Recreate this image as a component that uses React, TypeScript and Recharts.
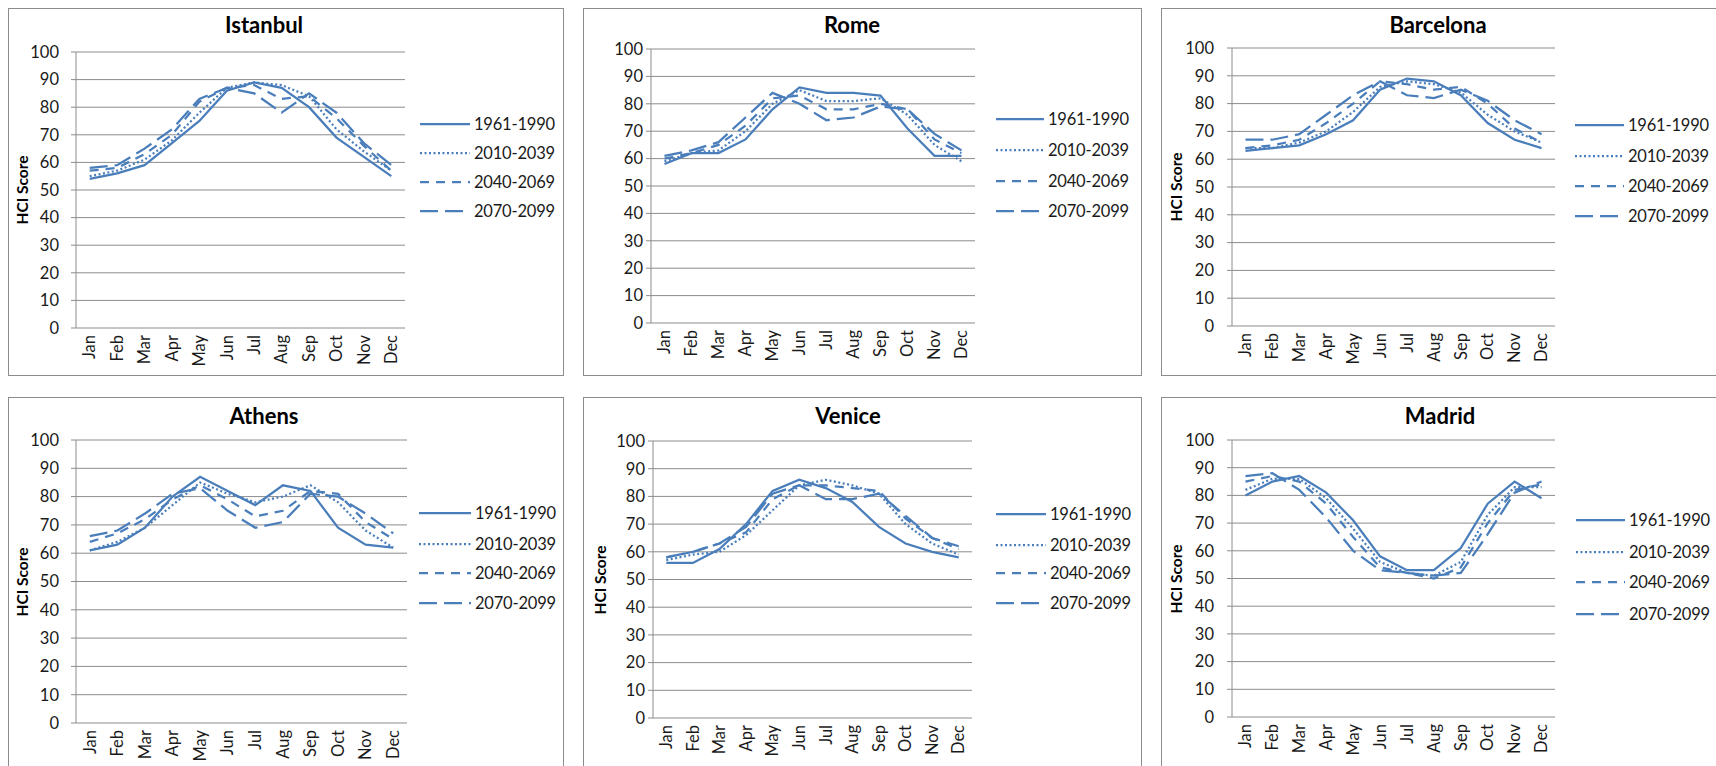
import React from "react";
import { LineChart, Line, XAxis, YAxis, CartesianGrid } from "recharts";

const MONTHS = ["Jan", "Feb", "Mar", "Apr", "May", "Jun", "Jul", "Aug", "Sep", "Oct", "Nov", "Dec"];
const PERIODS = ["1961-1990", "2010-2039", "2040-2069", "2070-2099"];
const Y_TICKS = [0, 10, 20, 30, 40, 50, 60, 70, 80, 90, 100];

// HCI scores per month, one array per period
const IST_1961 = [54, 56, 59, 67, 75, 86, 89, 87, 80, 69, 62, 55];
const IST_2010 = [55, 57, 61, 68, 78, 87, 89, 88, 84, 72, 64, 57];
const IST_2040 = [57, 58, 63, 70, 82, 87, 88, 83, 84, 76, 66, 57];
const IST_2070 = [58, 59, 65, 72, 83, 87, 85, 78, 85, 78, 67, 59];

const ROM_1961 = [58, 62, 62, 67, 78, 86, 84, 84, 83, 71, 61, 61];
const ROM_2010 = [59, 62, 63, 70, 80, 85, 81, 81, 82, 76, 65, 59];
const ROM_2040 = [60, 62, 65, 72, 82, 83, 78, 78, 80, 78, 67, 62];
const ROM_2070 = [61, 63, 66, 75, 84, 80, 74, 75, 79, 78, 69, 63];

const BCN_1961 = [63, 64, 65, 69, 74, 85, 89, 88, 83, 73, 67, 64];
const BCN_2010 = [64, 64, 66, 70, 77, 86, 88, 87, 84, 76, 70, 66];
const BCN_2040 = [64, 65, 67, 73, 80, 88, 87, 85, 86, 80, 71, 66];
const BCN_2070 = [67, 67, 69, 76, 83, 88, 83, 82, 85, 81, 74, 69];

const ATH_1961 = [61, 63, 69, 80, 87, 82, 77, 84, 82, 69, 63, 62];
const ATH_2010 = [61, 64, 69, 77, 85, 81, 78, 80, 84, 78, 68, 62];
const ATH_2040 = [64, 67, 72, 79, 84, 79, 73, 75, 82, 81, 71, 65];
const ATH_2070 = [66, 68, 74, 81, 83, 75, 69, 71, 81, 80, 74, 67];

const VEN_1961 = [56, 56, 61, 70, 82, 86, 83, 78, 69, 63, 60, 58];
const VEN_2010 = [57, 59, 60, 66, 75, 84, 86, 84, 81, 70, 63, 59];
const VEN_2040 = [58, 60, 63, 67, 79, 84, 84, 83, 82, 72, 65, 61];
const VEN_2070 = [58, 60, 63, 69, 81, 84, 79, 79, 81, 73, 65, 62];

const MAD_1961 = [80, 85, 87, 81, 71, 58, 53, 53, 61, 77, 85, 79];
const MAD_2010 = [82, 86, 86, 79, 68, 56, 52, 51, 56, 73, 83, 83];
const MAD_2040 = [85, 87, 85, 77, 65, 54, 52, 50, 54, 70, 82, 84];
const MAD_2070 = [87, 88, 82, 72, 60, 53, 52, 51, 52, 66, 81, 85];

const BLUE = "#4A7EBB";
const GRID = "#8c8c8c";
const TEXT = "#1a1a1a";
const FONT = "Lato, 'Open Sans', sans-serif";
const DASHES = [undefined, "2 2.5", "9 7", "18 7"];

interface Layout {
  box: [number, number, number, number];
  plot: [number, number, number, number];
  titleX: number;
  titleY: number;
  hciX?: number;
  labelGap: number;
  legendLineX: number;
  legendTextX: number;
  legendY: number[];
}

const PANELS: { city: string; series: number[][]; layout: Layout }[] = [
  {
    city: "Istanbul",
    series: [IST_1961, IST_2010, IST_2040, IST_2070],
    layout: { box: [8, 8, 556, 368], plot: [76, 405, 52, 328], titleX: 264, titleY: 25, hciX: 22, labelGap: 17, legendLineX: 420, legendTextX: 474, legendY: [124, 153, 182, 211] },
  },
  {
    city: "Rome",
    series: [ROM_1961, ROM_2010, ROM_2040, ROM_2070],
    layout: { box: [583, 8, 559, 368], plot: [651, 975, 49, 323], titleX: 852, titleY: 25, labelGap: 8, legendLineX: 996, legendTextX: 1048, legendY: [119, 150, 181, 211] },
  },
  {
    city: "Barcelona",
    series: [BCN_1961, BCN_2010, BCN_2040, BCN_2070],
    layout: { box: [1161, 8, 560, 368], plot: [1232, 1555, 48, 326], titleX: 1438, titleY: 25, hciX: 1176, labelGap: 18, legendLineX: 1575, legendTextX: 1628, legendY: [125, 156, 186, 216] },
  },
  {
    city: "Athens",
    series: [ATH_1961, ATH_2010, ATH_2040, ATH_2070],
    layout: { box: [8, 397, 556, 380], plot: [76, 407, 440, 723], titleX: 264, titleY: 416, hciX: 22, labelGap: 17, legendLineX: 419, legendTextX: 475, legendY: [513, 544, 573, 603] },
  },
  {
    city: "Venice",
    series: [VEN_1961, VEN_2010, VEN_2040, VEN_2070],
    layout: { box: [583, 397, 559, 380], plot: [653, 972, 441, 718], titleX: 848, titleY: 416, hciX: 600, labelGap: 8, legendLineX: 996, legendTextX: 1050, legendY: [514, 545, 573, 603] },
  },
  {
    city: "Madrid",
    series: [MAD_1961, MAD_2010, MAD_2040, MAD_2070],
    layout: { box: [1161, 397, 560, 380], plot: [1232, 1555, 440, 717], titleX: 1440, titleY: 416, hciX: 1176, labelGap: 18, legendLineX: 1576, legendTextX: 1629, legendY: [520, 552, 582, 614] },
  },
];

const BOUNDS = Array.from({ length: 13 }, (_, i) => i);
const CENTERS = MONTHS.map((_, i) => i + 0.5);

function MonthTick(props: any) {
  const { x, y, payload } = props;
  return (
    <text
      transform={`translate(${x},${y + 7}) rotate(-90)`}
      textAnchor="end"
      dy="0.35em"
      fontSize={16.5}
      fill={TEXT}
      fontFamily={FONT}
    >
      {MONTHS[Math.floor(payload.value)]}
    </text>
  );
}

function Panel({ city, series, layout }: { city: string; series: number[][]; layout: Layout }) {
  const [bl, bt, bw, bh] = layout.box;
  const [x0, x1, y0, y1] = layout.plot;
  const plotW = x1 - x0;
  const plotH = y1 - y0;
  const rows = MONTHS.map((m, i) => ({
    x: i + 0.5,
    month: m,
    p0: series[0][i],
    p1: series[1][i],
    p2: series[2][i],
    p3: series[3][i],
  }));

  return (
    <>
      <div
        style={{
          position: "absolute",
          left: bl,
          top: bt,
          width: bw,
          height: bh,
          border: `1px solid ${GRID}`,
          boxSizing: "border-box",
        }}
      />
      <div
        style={{
          position: "absolute",
          left: layout.titleX - 100,
          top: layout.titleY - 14,
          width: 200,
          textAlign: "center",
          fontWeight: 700,
          fontSize: 22,
          lineHeight: "28px",
          color: "#000",
        }}
      >
        {city}
      </div>
      {layout.hciX !== undefined && (
        <div
          style={{
            position: "absolute",
            left: layout.hciX - 60,
            top: (y0 + y1) / 2 - 10,
            width: 120,
            height: 20,
            lineHeight: "20px",
            textAlign: "center",
            fontWeight: 700,
            fontSize: 15.5,
            color: "#000",
            transform: "rotate(-90deg)",
          }}
        >
          HCI Score
        </div>
      )}
      <div style={{ position: "absolute", left: x0 - 70, top: y0 - 10 }}>
        <LineChart
          width={plotW + 80}
          height={plotH + 10 + 60}
          data={rows}
          margin={{ top: 10, right: 10, left: 20, bottom: 0 }}
        >
          <CartesianGrid vertical={false} stroke={GRID} strokeWidth={1} />
          <XAxis
            xAxisId="b"
            dataKey="x"
            type="number"
            domain={[0, 12]}
            ticks={BOUNDS}
            interval={0}
            height={0}
            tickSize={5}
            tickFormatter={() => ""}
            stroke={GRID}
          />
          <XAxis
            xAxisId="m"
            dataKey="x"
            type="number"
            domain={[0, 12]}
            ticks={CENTERS}
            interval={0}
            height={60}
            tickSize={0}
            tickMargin={0}
            axisLine={false}
            tickLine={false}
            tick={<MonthTick />}
          />
          <YAxis
            domain={[0, 100]}
            ticks={Y_TICKS}
            interval={0}
            width={50}
            tickSize={5}
            tickMargin={layout.labelGap - 5}
            stroke={GRID}
            tick={{ fill: TEXT, fontSize: 16.5, fontFamily: FONT }}
          />
          {PERIODS.map((p, k) => (
            <Line
              key={p}
              xAxisId="b"
              dataKey={`p${k}`}
              name={p}
              stroke={BLUE}
              strokeWidth={2.25}
              strokeDasharray={DASHES[k]}
              dot={false}
              activeDot={false}
              isAnimationActive={false}
            />
          ))}
        </LineChart>
      </div>
      {PERIODS.map((p, k) => (
        <React.Fragment key={p}>
          <svg
            width={layout.legendTextX - layout.legendLineX}
            height={6}
            style={{ position: "absolute", left: layout.legendLineX, top: layout.legendY[k] - 3 }}
          >
            <line
              x1={0}
              y1={3}
              x2={layout.legendTextX - layout.legendLineX - 4}
              y2={3}
              stroke={BLUE}
              strokeWidth={2.25}
              strokeDasharray={DASHES[k]}
            />
          </svg>
          <div
            style={{
              position: "absolute",
              left: layout.legendTextX,
              top: layout.legendY[k] - 11,
              lineHeight: "22px",
              fontSize: 16.5,
              letterSpacing: -0.2,
              color: TEXT,
              whiteSpace: "nowrap",
            }}
          >
            {p}
          </div>
        </React.Fragment>
      ))}
    </>
  );
}

export default function App() {
  return (
    <div
      style={{
        position: "absolute",
        left: 0,
        top: 0,
        width: 1716,
        height: 766,
        overflow: "hidden",
        background: "#fff",
        fontFamily: FONT,
      }}
    >
      {PANELS.map((panel) => (
        <Panel key={panel.city} city={panel.city} series={panel.series} layout={panel.layout} />
      ))}
    </div>
  );
}
